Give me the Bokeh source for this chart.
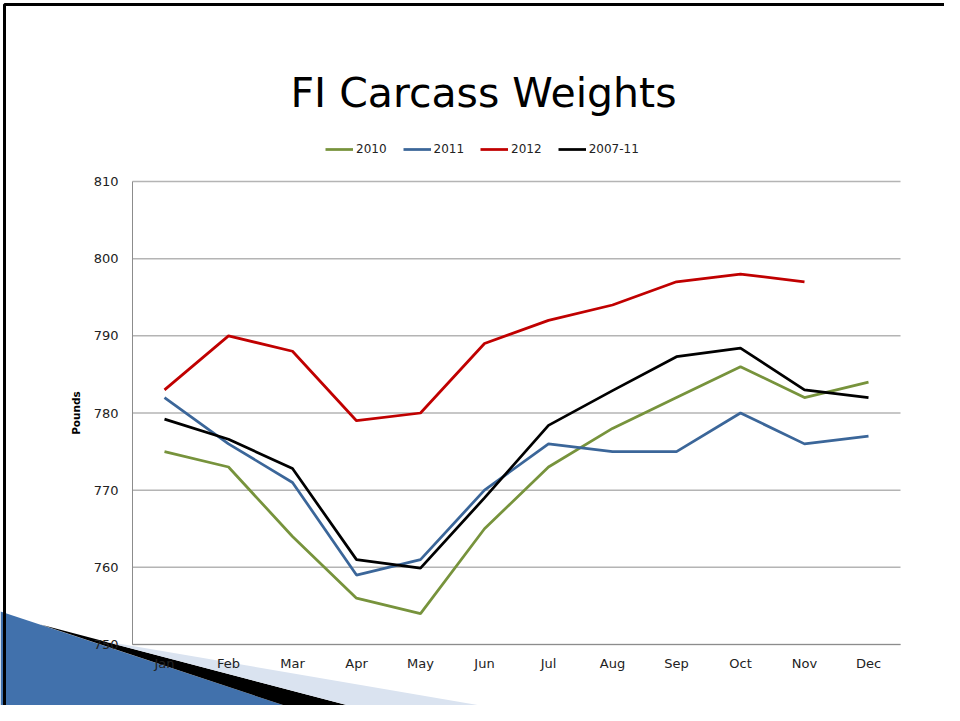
from bokeh.plotting import figure
from bokeh.models import Range1d, FixedTicker, Legend, LegendItem, Label
from bokeh.embed import file_html
from bokeh.resources import INLINE

# ---- data ----
months = ["Jan", "Feb", "Mar", "Apr", "May", "Jun",
          "Jul", "Aug", "Sep", "Oct", "Nov", "Dec"]
w2010 = [775, 773, 764, 756, 754, 765, 773, 778, 782, 786, 782, 784]
w2011 = [782, 776, 771, 759, 761, 770, 776, 775, 775, 780, 776, 777]
w2012 = [783, 790, 788, 779, 780, 789, 792, 794, 797, 798, 797]
w0711 = [779.2, 776.6, 772.8, 761.0, 759.9, 769.0, 778.4, 782.9, 787.3, 788.4, 783.0, 782.0]
y_ticks = [750, 760, 770, 780, 790, 800, 810]
series_names = ["2010", "2011", "2012", "2007-11"]
Y_MIN, Y_MAX = 750, 810

FONT = "DejaVu Sans"

# ---- layout (page pixels) ----
W, H = 944, 705
PL, PR, PT, PB = 132, 900, 181, 644          # chart area edges
N = len(months)
XPX = (PR - PL) / N                           # px per month band
YPX = (PB - PT) / (Y_MAX - Y_MIN)             # px per pound
x_pos = list(range(1, N + 1))                 # month centres (band = x-0.5 .. x+0.5)

p = figure(width=W, height=H, output_backend="svg", toolbar_location=None,
           x_range=Range1d(0.5 - PL / XPX, N + 0.5 + (W - PR) / XPX),
           y_range=Range1d(Y_MIN - (H - PB) / YPX, Y_MAX + PT / YPX),
           min_border=0, min_border_left=0, min_border_right=0,
           min_border_top=0, min_border_bottom=0)
p.outline_line_color = None
p.background_fill_color = "white"
p.border_fill_color = "white"
p.xgrid.visible = False
p.ygrid.visible = False

def px(x, y):
    """page pixel -> plot coordinates (for ornaments / title only)"""
    return 0.5 + (x - PL) / XPX, Y_MIN + (PB - y) / YPX

# ---- decorative page ornament (slide swoosh + frame) ----
ornament = [
    ([(0, 611), (0, 705), (284, 705)], "#4171AC"),
    ([(40, 624), (348, 705), (284, 705)], "#000000"),
    ([(100, 640), (480, 705), (348, 705)], "#DAE3F0"),
]
for pts, col in ornament:
    xy = [px(x, y) for x, y in pts]
    p.patch([a for a, b in xy], [b for a, b in xy], fill_color=col, line_color=None)
bx, by = zip(*[px(4, 705), px(4, 4), px(W, 4)])
p.line(list(bx), list(by), line_color="#000000", line_width=3)

# ---- gridlines from the tick values ----
p.segment(x0=[0.5] * len(y_ticks), x1=[N + 0.5] * len(y_ticks), y0=y_ticks, y1=y_ticks,
          line_color="#b4b4b4", line_width=1.5)

# ---- axes ----
p.yaxis.ticker = FixedTicker(ticks=y_ticks)
p.xaxis.ticker = FixedTicker(ticks=x_pos)
p.xaxis.major_label_overrides = {x: m for x, m in zip(x_pos, months)}
p.yaxis.fixed_location = 0.5
p.xaxis.fixed_location = Y_MIN
p.yaxis.bounds = (Y_MIN, Y_MAX)
p.xaxis.bounds = (0.5, N + 0.5)
for ax in (p.xaxis[0], p.yaxis[0]):
    ax.axis_line_color = "#8c8c8c"
    ax.axis_line_width = 1
    ax.major_tick_line_color = None
    ax.minor_tick_line_color = None
    ax.major_tick_out = 0
    ax.major_tick_in = 0
    ax.major_label_text_font = FONT
    ax.major_label_text_font_size = "13px"
    ax.major_label_text_color = "#222222"
p.yaxis.major_label_standoff = 14
p.xaxis.major_label_standoff = 11
p.yaxis.axis_label = "Pounds"
p.yaxis.axis_label_text_font = FONT
p.yaxis.axis_label_text_font_size = "10.5px"
p.yaxis.axis_label_text_font_style = "bold"
p.yaxis.axis_label_text_color = "#000000"
p.yaxis.axis_label_standoff = 9

# ---- series ----
colors = ["#77933C", "#3B6699", "#C00000", "#000000"]
r1 = p.line(x_pos, w2010, line_color=colors[0], line_width=2.75)
r2 = p.line(x_pos, w2011, line_color=colors[1], line_width=2.75)
r3 = p.line(x_pos[:len(w2012)], w2012, line_color=colors[2], line_width=2.75)
r4 = p.line(x_pos, w0711, line_color=colors[3], line_width=2.75)

legend = Legend(items=[LegendItem(label=n, renderers=[r]) for n, r in
                       zip(series_names, [r1, r2, r3, r4])],
                orientation="horizontal", location=(325, H - 159),
                padding=0, margin=0, spacing=16, glyph_width=28, glyph_height=20,
                label_height=20,
                label_standoff=3, label_text_font=FONT, label_text_font_size="12px",
                label_text_color="#222222", border_line_color=None,
                background_fill_alpha=0)
p.add_layout(legend, "center")

# ---- title ----
tx, ty = px(483, 92)
p.add_layout(Label(x=tx, y=ty, text="FI Carcass Weights", text_font=FONT,
                   text_font_size="41px", text_color="#000000", text_align="center",
                   text_baseline="alphabetic"))

open("out.html", "w").write(file_html(p, INLINE))
